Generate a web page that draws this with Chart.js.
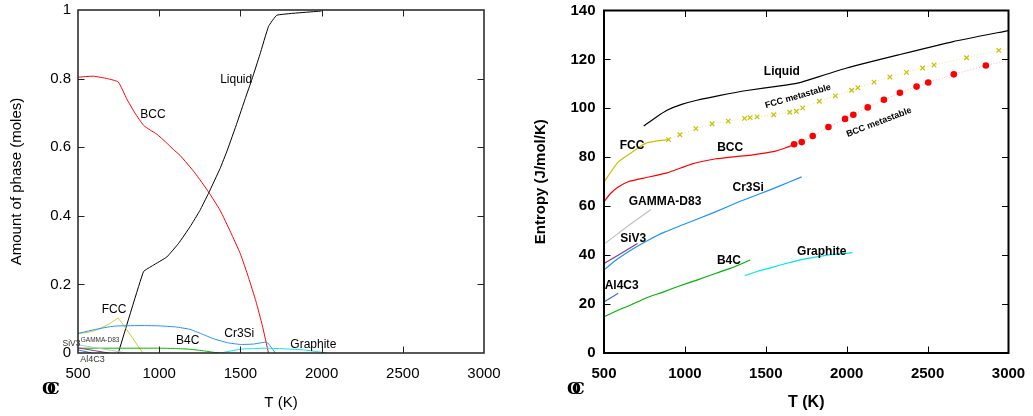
<!DOCTYPE html>
<html><head><meta charset="utf-8">
<script src="https://cdn.jsdelivr.net/npm/chart.js@4"></script>
<style>
html,body{margin:0;padding:0;background:#fff;width:1033px;height:416px;overflow:hidden}
#l{position:absolute;left:0;top:0}
#r{position:absolute;left:516px;top:0}
</style></head><body>
<canvas id="l" width="520" height="416"></canvas>
<canvas id="r" width="517" height="416"></canvas>
<script>
// ---------- shared ticks ----------
const tempTicks = [500, 1000, 1500, 2000, 2500, 3000];
const amountTicks = [0, 0.2, 0.4, 0.6, 0.8, 1];
const entropyTicks = [0, 20, 40, 60, 80, 100, 120, 140];

// ---------- Left: amount of phase (moles) vs T ----------
const amtBCC_T = [500,594,680,748,800,850,903,944,985,1040,1088,1129,1220,1303,1375,1440,1499,1550,1596,1635,1673];
const amtBCC   = [0.804,0.807,0.800,0.790,0.741,0.700,0.664,0.650,0.638,0.615,0.593,0.576,0.525,0.470,0.416,0.352,0.290,0.220,0.150,0.080,0];
const amtLiq_T = [748,903,960,1047,1120,1190,1250,1303,1375,1420,1480,1530,1571,1620,1673,1725,2000];
const amtLiq   = [0,0.237,0.255,0.280,0.320,0.368,0.415,0.465,0.538,0.592,0.672,0.742,0.798,0.870,0.952,0.985,0.997];
const amtFCC_T = [500,560,615,660,697,748,899];
const amtFCC   = [0.057,0.060,0.067,0.077,0.086,0.101,0];
const amtCr3Si_T = [500,600,700,748,900,1005,1100,1189,1260,1332,1420,1499,1580,1663,1715];
const amtCr3Si   = [0.057,0.068,0.077,0.079,0.080,0.079,0.076,0.069,0.056,0.042,0.030,0.025,0.026,0.031,0];
const amtB4C_T = [500,800,1005,1100,1189,1280,1334,1380];
const amtB4C   = [0.014,0.014,0.014,0.013,0.011,0.006,0.002,0];
const amtGraph_T = [1378,1499,1580,1663,1780,1889,1970,2035];
const amtGraph   = [0,0.011,0.013,0.014,0.012,0.009,0.004,0];
const amtGamma_T = [500,650,800];
const amtGamma   = [0.024,0.012,0];
const amtSiV3_T = [500,600,690];
const amtSiV3   = [0.015,0.007,0];
const amtAl4C3_T = [500,585];
const amtAl4C3   = [0.009,0];

// ---------- Right: entropy (J/mol/K) vs T ----------
const sLiq_T = [745,820,889,980,1074,1218,1383,1588,1681,1722,2000,2329,2658,3000];
const sLiq   = [92.8,96.3,99.2,101.6,103.3,105.3,107.3,109.2,110.1,110.7,116.5,122.0,127.3,131.8];
const sFCC_T = [500,588,691,753,820,899];
const sFCC   = [69.9,78.1,82.9,85.6,86.6,87.2];
const sFCCm_T = [899,969,1068,1168,1268,1368,1403,1446,1549,1648,1689,1728,1831,1930,2031,2069,2169,2267,2370,2469,2540,2741,2940,3000];
const sFCCm   = [87.2,89.2,91.7,93.7,94.8,95.9,96.2,96.5,97.4,98.4,98.8,100.2,102.9,105.1,107.4,108.4,110.7,112.8,114.7,116.5,117.7,120.7,123.7,124.5];
const sBCC_T = [500,540,588,650,745,889,1041,1185,1300,1383,1450,1547,1620,1675];
const sBCC   = [61.8,65.2,67.9,70.0,71.5,73.6,77.2,79.3,80.2,80.7,81.3,82.3,83.8,85.3];
const sBCCm_T = [1675,1722,1790,1887,1990,2041,2130,2230,2329,2432,2504,2662,2860,3000];
const sBCCm   = [85.3,86.2,88.7,92.4,95.7,97.4,100.4,103.5,106.4,108.9,110.6,113.9,117.5,119.6];
const sCr3Si_T = [500,540,588,680,773,870,979,1185,1341,1460,1576,1722];
const sCr3Si   = [33.9,36.2,38.6,42.6,46.1,49.3,52.2,57.6,62.0,65.0,68.0,72.0];
const sGamma_T = [500,650,790];
const sGamma   = [44.5,52.0,58.7];
const sSiV3_T = [500,600,707];
const sSiV3   = [36.6,40.5,44.8];
const sAl4C3_T = [500,588];
const sAl4C3   = [20.9,24.4];
const sB4C_T = [500,580,665,760,868,970,1074,1180,1280,1340,1403];
const sB4C   = [14.8,17.3,19.6,22.5,25.0,27.5,29.8,32.3,34.6,36.2,38.0];
const sGraph_T = [1370,1450,1540,1630,1712,1817,1917,2035];
const sGraph   = [31.6,33.4,35.0,36.7,38.1,39.3,40.3,41.0];

// ---------- curve labels: [text, T, value] ----------
const leftLabels = [
  ['Liquid', 1474, 0.798], ['BCC', 962, 0.696], ['FCC', 722, 0.125],
  ['Cr3Si', 1493, 0.057], ['B4C', 1175, 0.036], ['Graphite', 1949, 0.023]
];
const leftSmallLabels = [
  ['SiV3', 460, 0.028, 8.5], ['GAMMA-D83', 636, 0.038, 6.5], ['Al4C3', 589, -0.020, 9]
];
const rightLabels = [
  ['Liquid', 1599, 114.8], ['FCC', 673, 84.6], ['BCC', 1280, 83.8], ['Cr3Si', 1391, 67.5],
  ['GAMMA-D83', 877, 62.0], ['SiV3', 681, 46.8], ['Al4C3', 609, 27.5], ['B4C', 1272, 37.7],
  ['Graphite', 1846, 41.3]
];
const rightRotLabels = [
  ['FCC metastable', 1699, 104.9, -16], ['BCC metastable', 2200, 94.3, -21]
];

const pts = (ts, vs) => ts.map((t, i) => ({x: t, y: vs[i]}));
const line = (ts, vs, color, w, tension) => ({
  data: pts(ts, vs), borderColor: color, backgroundColor: color, borderWidth: w,
  pointRadius: 0, fill: false, tension: tension || 0
});

function framePlugin(lw, color, tickLen) {
  return {
    id: 'frame',
    afterDatasetsDraw(chart) {
      const {ctx, chartArea: a, scales: {x, y}} = chart;
      ctx.save();
      ctx.strokeStyle = color;
      ctx.lineWidth = lw;
      ctx.strokeRect(a.left, a.top, a.right - a.left, a.bottom - a.top);
      ctx.lineWidth = 1;
      ctx.beginPath();
      x.ticks.forEach(t => {
        if (t.value === x.min || t.value === x.max) return;
        const p = Math.round(x.getPixelForValue(t.value)) + 0.5;
        ctx.moveTo(p, a.bottom); ctx.lineTo(p, a.bottom - tickLen);
        ctx.moveTo(p, a.top); ctx.lineTo(p, a.top + tickLen);
      });
      y.ticks.forEach(t => {
        if (t.value === y.min || t.value === y.max) return;
        const p = Math.round(y.getPixelForValue(t.value)) + 0.5;
        ctx.moveTo(a.left, p); ctx.lineTo(a.left + tickLen, p);
        ctx.moveTo(a.right, p); ctx.lineTo(a.right - tickLen, p);
      });
      ctx.stroke();
      ctx.restore();
    }
  };
}

function labelPlugin(labels, font, small, rot, logoX) {
  return {
    id: 'labels',
    afterDraw(chart) {
      const {ctx, scales: {x, y}} = chart;
      ctx.save();
      ctx.fillStyle = '#000';
      ctx.textAlign = 'center';
      ctx.textBaseline = 'middle';
      ctx.font = font;
      labels.forEach(([s, t, v]) => ctx.fillText(s, x.getPixelForValue(t), y.getPixelForValue(v)));
      (small || []).forEach(([s, t, v, sz]) => {
        ctx.font = sz + 'px "Liberation Sans", Arial, sans-serif';
        ctx.fillStyle = '#333';
        ctx.fillText(s, x.getPixelForValue(t), y.getPixelForValue(v));
      });
      ctx.fillStyle = '#000';
      (rot || []).forEach(([s, t, v, ang]) => {
        ctx.save();
        ctx.translate(x.getPixelForValue(t), y.getPixelForValue(v));
        ctx.rotate(ang * Math.PI / 180);
        ctx.font = 'bold 9px "Liberation Sans", Arial, sans-serif';
        ctx.fillText(s, 0, 0);
        ctx.restore();
      });
      // logo
      ctx.font = 'bold 16px "DejaVu Serif", serif';
      ctx.textAlign = 'left';
      ctx.fillText('O', logoX, 390);
      ctx.fillText('C', logoX + 5, 390);
      ctx.restore();
    }
  };
}

function scalesFor(opt) {
  const f = {family: '"Liberation Sans", Arial, sans-serif', size: 15, weight: opt.bold ? 'bold' : 'normal'};
  return {
    x: {
      type: 'linear', min: 500, max: 3000,
      afterBuildTicks: s => { s.ticks = tempTicks.map(v => ({value: v})); },
      ticks: {font: f, color: '#000', padding: 11.5, maxRotation: 0, callback: v => String(v)},
      grid: {display: false, drawTicks: false}, border: {display: false},
      title: {display: true, text: 'T (K)', color: '#000', font: {...f, size: opt.xTitleSize}, padding: {top: 0, bottom: 4}},
      afterFit: s => { s.height = 63; s.paddingLeft = 0; s.paddingRight = 0; }
    },
    y: {
      type: 'linear', min: opt.yTicks[0], max: opt.yTicks[opt.yTicks.length - 1],
      afterBuildTicks: s => { s.ticks = opt.yTicks.map(v => ({value: v})); },
      ticks: {font: f, color: '#000', padding: opt.yPad, callback: v => String(+Number(v).toFixed(1))},
      grid: {display: false, drawTicks: false}, border: {display: false},
      title: {display: true, text: opt.yTitle, color: '#000', font: {...f, size: opt.yTitleSize}, padding: {top: opt.yTitlePad, bottom: 0}},
      afterFit: s => { s.width = opt.yWidth; s.paddingTop = 0; s.paddingBottom = 0; }
    }
  };
}

const common = {
  responsive: false, animation: false, devicePixelRatio: 1,
  plugins: {legend: {display: false}, tooltip: {enabled: false}}
};

const T = 0.15;
new Chart(document.getElementById('l'), {
  type: 'line',
  data: {datasets: [
    line(amtAl4C3_T, amtAl4C3, '#4169e1', 1),
    line(amtSiV3_T, amtSiV3, '#804080', 1),
    line(amtGamma_T, amtGamma, '#c0c0c0', 1),
    line(amtGraph_T, amtGraph, '#00e5ee', 1, T),
    line(amtB4C_T, amtB4C, '#00b400', 1, T),
    line(amtCr3Si_T, amtCr3Si, '#1e90ff', 1, T),
    line(amtFCC_T, amtFCC, '#c8c820', 1, 0.1),
    line(amtLiq_T, amtLiq, '#000000', 1, 0.1),
    line(amtBCC_T, amtBCC, '#ff0000', 1, T)
  ]},
  options: {...common,
    layout: {padding: {left: 0, right: 36, top: 10, bottom: 0}},
    scales: scalesFor({bold: false, yTicks: amountTicks, yTitle: 'Amount of phase (moles)', yTitleSize: 15, yTitlePad: 8, yPad: 7, yWidth: 78, xTitleSize: 15})
  },
  plugins: [framePlugin(1.5, '#222', 6.5), labelPlugin(leftLabels, '12px "Liberation Sans", Arial, sans-serif', leftSmallLabels, null, 42)]
});

const metaFCC = {
  data: pts(sFCCm_T, sFCCm), borderColor: '#e8e890', borderWidth: 1, borderDash: [1, 2], tension: 0,
  pointStyle: 'crossRot', pointBorderColor: '#c8c000', pointBackgroundColor: '#c8c000', pointBorderWidth: 1.2,
  pointRadius: c => c.dataIndex === sFCCm_T.length - 1 ? 0 : 3.2, fill: false
};
const metaBCC = {
  data: pts(sBCCm_T, sBCCm), borderColor: '#ffb0b0', borderWidth: 1, borderDash: [1, 2], tension: 0,
  pointStyle: 'circle', pointBorderColor: '#ff0000', pointBackgroundColor: '#ff0000', pointBorderWidth: 0,
  pointRadius: c => c.dataIndex === sBCCm_T.length - 1 ? 0 : 3.3, fill: false
};

new Chart(document.getElementById('r'), {
  type: 'line',
  data: {datasets: [
    metaFCC, metaBCC,
    line(sAl4C3_T, sAl4C3, '#4169e1', 1.2),
    line(sSiV3_T, sSiV3, '#804080', 1.2),
    line(sGamma_T, sGamma, '#c0c0c0', 1.2),
    line(sGraph_T, sGraph, '#00e5ee', 1.2, T),
    line(sB4C_T, sB4C, '#00b400', 1.2, T),
    line(sCr3Si_T, sCr3Si, '#1e90ff', 1.2, T),
    line(sFCC_T, sFCC, '#c8c000', 1.2, T),
    line(sBCC_T, sBCC, '#ff0000', 1.2, T),
    line(sLiq_T, sLiq, '#000000', 1.2, T)
  ]},
  options: {...common,
    layout: {padding: {left: 0, right: 24.5, top: 10.5, bottom: 0}},
    scales: scalesFor({bold: true, yTicks: entropyTicks, yTitle: 'Entropy (J/mol/K)', yTitleSize: 15, yTitlePad: 16, yPad: 8.5, yWidth: 88, xTitleSize: 16})
  },
  plugins: [framePlugin(2, '#000', 6.5), labelPlugin(rightLabels, 'bold 12px "Liberation Sans", Arial, sans-serif', null, rightRotLabels, 51)]
});
</script>
</body></html>
